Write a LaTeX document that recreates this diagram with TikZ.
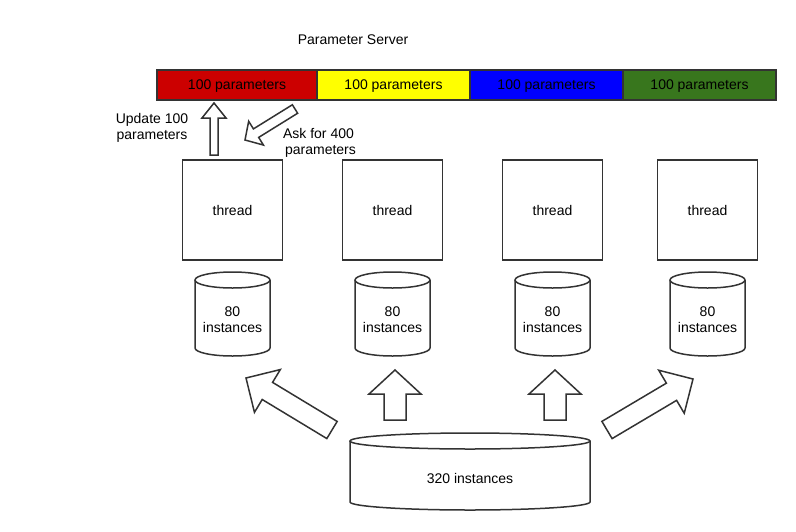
\documentclass[tikz,border=0pt]{standalone}
\usepackage{fontspec}
\setmainfont{Liberation Sans}
\usetikzlibrary{calc}

% block arrow: tail, tip, shaft half width, head half width, head length
\newcommand{\blockarrow}[5]{%
  \coordinate (hb) at ($(#2)!#5!(#1)$);
  \draw[blockline] ($(#1)!#3!90:(#2)$) -- ($(hb)!#3!90:(#2)$) --
    ($(hb)!#4!90:(#2)$) -- (#2) -- ($(hb)!#4!-90:(#2)$) --
    ($(hb)!#3!-90:(#2)$) -- ($(#1)!#3!-90:(#2)$) -- cycle;}

\begin{document}
\begin{tikzpicture}[x=1pt,y=-1pt,font=\fontsize{14}{16}\selectfont,
  line width=1.5pt,
  segment/.style={draw=edge,line width=2pt,minimum height=30pt,inner sep=0pt,text depth=0pt},
  threadbox/.style={draw=edge,fill=white,minimum width=100pt,minimum height=100pt},
  blockline/.style={draw=edge,fill=white,line join=miter}]

  \definecolor{edge}{RGB}{51,51,51} % dark grey
  \definecolor{pred}{RGB}{204,0,0} % red
  \definecolor{pyellow}{RGB}{255,255,0} % yellow
  \definecolor{pblue}{RGB}{0,0,255} % blue
  \definecolor{pgreen}{RGB}{56,118,29} % green

  \useasboundingbox (0,0) rectangle (796,531);

  % Parameter server
  \node (title) at (353,40) {Parameter Server};
  \node[segment,fill=pred,minimum width=160pt] (p1) at (237,85) {100 parameters};
  \node[segment,fill=pyellow,minimum width=153pt] (p2) at (393.5,85) {100 parameters};
  \node[segment,fill=pblue,minimum width=153pt] (p3) at (546.5,85) {100 parameters};
  \node[segment,fill=pgreen,minimum width=153pt] (p4) at (699.5,85) {100 parameters};

  % Threads and their local instances
  \foreach \i/\x in {1/232.5,2/392.5,3/552.5,4/707.5} {
    \node[threadbox] (thread\i) at (\x,210) {thread};
    \draw[edge,fill=white] (\x-37.5,280) -- (\x-37.5,348)
      arc[start angle=180,end angle=0,x radius=37.5,y radius=8] -- (\x+37.5,280);
    \draw[edge,fill=white] (\x,280) ellipse[x radius=37.5,y radius=8];
    \node[align=center] (local\i) at (\x,320) {80\\instances};
  }

  % Whole data set
  \draw[edge,fill=white] (350,441) -- (350,502)
    arc[start angle=180,end angle=0,x radius=120,y radius=8] -- (590,441);
  \draw[edge,fill=white] (470,441) ellipse[x radius=120,y radius=8];
  \node (data) at (470,478) {320 instances};

  % Push and pull between thread 1 and the server
  \coordinate (uptail) at (214,155);
  \coordinate (uptip) at (214,103);
  \blockarrow{uptail}{uptip}{4pt}{12pt}{15pt}
  \node[align=center] (update) at (152,128) {Update 100\\parameters};

  \coordinate (asktail) at (295,109);
  \coordinate (asktip) at (245,140);
  \blockarrow{asktail}{asktip}{5pt}{14pt}{13pt}
  \node[align=left,anchor=west] (ask) at (279,143) {Ask for 400\\\hspace{2pt}parameters};

  % Split the data set over the threads
  \coordinate (s1tail) at (332,430);
  \coordinate (s1tip) at (246,378);
  \blockarrow{s1tail}{s1tip}{10pt}{25pt}{25pt}
  \coordinate (s2tail) at (395,420);
  \coordinate (s2tip) at (395,370);
  \blockarrow{s2tail}{s2tip}{11pt}{26pt}{24pt}
  \coordinate (s3tail) at (555,420);
  \coordinate (s3tip) at (555,370);
  \blockarrow{s3tail}{s3tip}{11pt}{26pt}{24pt}
  \coordinate (s4tail) at (607,430);
  \coordinate (s4tip) at (693,379);
  \blockarrow{s4tail}{s4tip}{10pt}{25pt}{25pt}

\end{tikzpicture}
\end{document}
